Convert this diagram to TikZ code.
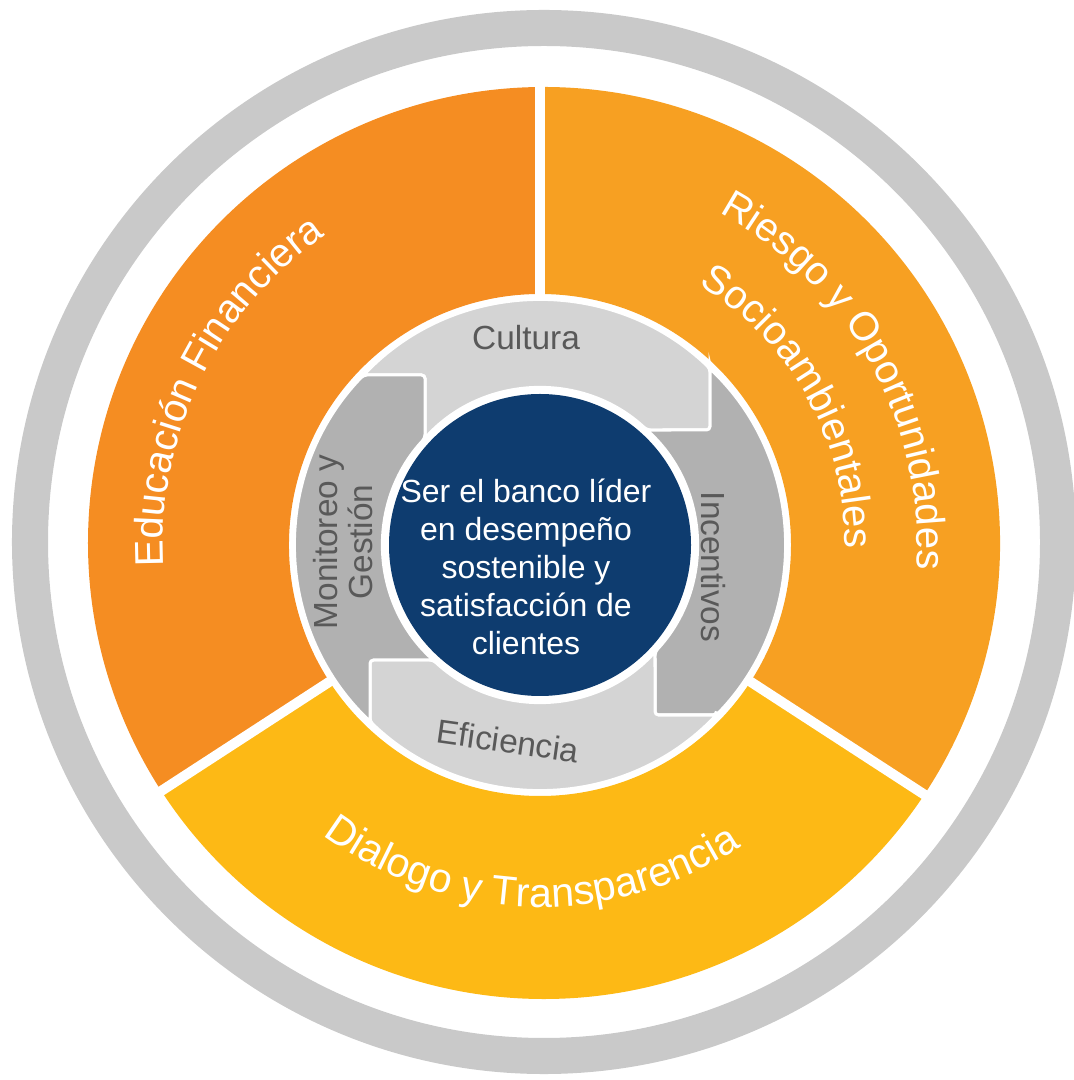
\documentclass[tikz,border=0pt]{standalone}
\usepackage{fontspec}
\setmainfont{Liberation Sans}
\usetikzlibrary{calc}
\usetikzlibrary{decorations.text}
\definecolor{ringgray}{HTML}{C9C9C9}
\definecolor{segleft}{HTML}{F58D22}
\definecolor{segright}{HTML}{F7A022}
\definecolor{segbottom}{HTML}{FDB915}
\definecolor{cyclight}{HTML}{D4D4D4}
\definecolor{cycdark}{HTML}{B1B1B1}
\definecolor{cyctext}{HTML}{595959}
\definecolor{corenavy}{HTML}{0E3C6F}
\newcommand{\cycro}{245}
\newcommand{\cycri}{157}
\newcommand{\segro}{456}
\newcommand{\segri}{251}
\newcommand{\arcfont}{\fontsize{11.4}{13}\selectfont}
\newcommand{\arcfontb}{\fontsize{11.7}{13}\selectfont}
\newcommand{\cycpiece}{(136.06:\cycro) -- (-115,170) -- (137.09:\cycri)
  arc[start angle=137.09, end angle=47.09, radius=\cycri] -- (170,115)
  -- (46.06:\cycro) arc[start angle=46.06, end angle=136.06, radius=\cycro]
  -- cycle}
\tikzset{
  piecelight/.style={fill=cyclight, draw=white, line width=0.03cm,
    rounded corners=1pt},
  piecedark/.style={fill=cycdark, draw=white, line width=0.03cm,
    rounded corners=1pt},
  cyclabel/.style={text=cyctext, inner sep=0pt,
    font=\fontsize{9.5}{7.7}\selectfont},
  coretext/.style={text=white, align=center, inner sep=0pt,
    font=\fontsize{9.1}{10.8}\selectfont},
  arclabel/.style={decorate, decoration={text along path,
    text align=center, text color=white, text={|\arcfont|#1}}},
  arclabelb/.style={decorate, decoration={text along path,
    text align=center, text color=white, text={|\arcfontb|#1}}}
}

\begin{document}
\begin{tikzpicture}[x=0.01cm, y=0.01cm]
  \useasboundingbox (-540,-535) rectangle (534,545);

  \draw[ringgray, line width=0.36cm] (4,3) circle[radius=514];

  \fill[segleft] (90:\segri) -- ($(4,2)+(90:\segro)$)
    arc[start angle=90, end angle=213, radius=\segro]
    -- (213:\segri) arc[start angle=213, end angle=90, radius=\segri]
    -- cycle;
  \fill[segbottom] (213:\segri) -- ($(4,2)+(213:\segro)$)
    arc[start angle=213, end angle=327, radius=\segro]
    -- (327:\segri) arc[start angle=327, end angle=213, radius=\segri]
    -- cycle;
  \fill[segright] (327:\segri) -- ($(4,2)+(327:\segro)$)
    arc[start angle=327, end angle=450, radius=\segro]
    -- (450:\segri) arc[start angle=450, end angle=327, radius=\segri]
    -- cycle;
  \foreach \ang in {90,213,327}
    \draw[white, line width=0.1cm] (\ang:230) -- (\ang:480);

  \path[arclabel={Educación Financiera}]
    (214:377) arc[start angle=214, end angle=94, radius=377];
  \path[arclabel={Riesgo y Oportunidades}]
    (89:377) arc[start angle=89, end angle=-31, radius=377];
  \path[arclabel={Socioambientales}]
    (89:305) arc[start angle=89, end angle=-31, radius=305];
  \path[arclabelb={Dialogo y Transparencia}]
    (208.5:362) arc[start angle=208.5, end angle=328.5, radius=362];

  \draw[piecelight] \cycpiece;
  \draw[piecedark, rotate=-90] \cycpiece;
  \draw[piecelight, rotate=180] \cycpiece;
  \draw[piecedark, rotate=90] \cycpiece;

  \fill[corenavy] (0,0) circle[radius=151];

  \node[cyclabel] (cultura) at (-14,207) {Cultura};
  \node[cyclabel, rotate=-90] (incentivos) at (173,-22) {Incentivos};
  \node[cyclabel, rotate=-8] (eficiencia) at (-32,-196) {Eficiencia};
  \node[cyclabel, rotate=90, align=center] (monitoreo) at (-197,3)
    {Monitoreo y\\Gestión};
  \node[coretext] (goal) at (-14,-22)
    {Ser el banco líder\\en desempeño\\sostenible y\\satisfacción de\\clientes};
\end{tikzpicture}
\end{document}
